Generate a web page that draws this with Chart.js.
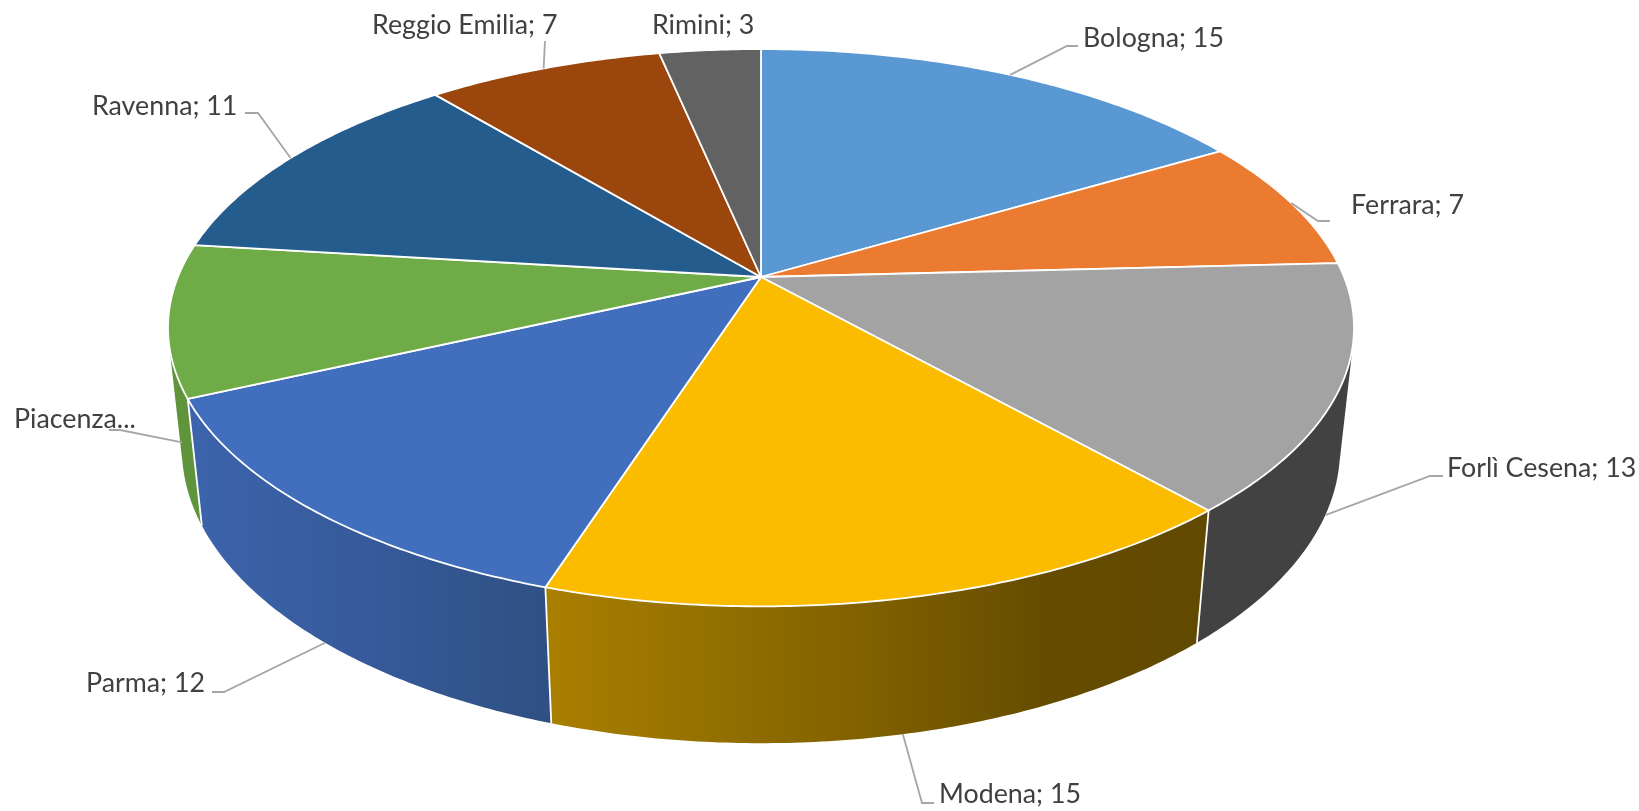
<!DOCTYPE html>
<html lang="it">
<head>
<meta charset="utf-8">
<title>Torta 3D</title>
<script src="https://cdn.jsdelivr.net/npm/chart.js@4"></script>
<style>
  html, body { margin: 0; padding: 0; background: #fff; }
  #wrap { width: 1639px; height: 811px; position: relative; }
</style>
</head>
<body>
<div id="wrap"><canvas id="torta"></canvas></div>
<script>
// Dati del grafico
const categories = ['Bologna', 'Ferrara', 'Forlì Cesena', 'Modena', 'Parma', 'Piacenza', 'Ravenna', 'Reggio Emilia', 'Rimini'];
const values = [15, 7, 13, 15, 12, 8, 11, 7, 3];
const labelTexts = ['Bologna; 15', 'Ferrara; 7', 'Forlì Cesena; 13', 'Modena; 15', 'Parma; 12', 'Piacenza...', 'Ravenna; 11', 'Reggio Emilia; 7', 'Rimini; 3'];

// Colori
const faceColors = ['#5A98D3', '#EA7B30', '#A3A3A3', '#FBBC00', '#416FBE', '#6FAB46', '#255C8E', '#9A460C', '#626262'];
const wallColors = [
    ['#3F6D96', '#3F6D96'], ['#A65723', '#A65723'], ['#424242', '#424242'],
    ['#AA7F00', '#947000', '#7F6000', '#654C00', '#614900'], ['#3C64AC', '#365A9A', '#2F5083'],
    ['#5F933C', '#5F933C'], ['#1A4166', '#1A4166'], ['#6F320A', '#6F320A'], ['#454545', '#454545']
];

// Posizione etichette: testo x, linea base, poi gomito e fine della linea guida
const labelLayout = [
    { x: 1083, y: 47, elbow: [1067, 46], end: [1078, 46] },
    { x: 1351, y: 214, elbow: [1318, 221], end: [1330, 221] },
    { x: 1447, y: 477, elbow: [1430, 476], end: [1443, 476] },
    { x: 939, y: 803, elbow: [922, 803], end: [934, 803] },
    { x: 86, y: 692, elbow: [224, 692], end: [212, 692] },
    { x: 14, y: 428, elbow: [120, 430], end: [109, 430] },
    { x: 92, y: 115, elbow: [258, 113], end: [245, 113] },
    { x: 372, y: 34, elbow: [545, 41], end: [545, 41] },
    { x: 652, y: 34, elbow: null, end: null }
];

// Prospettiva della torta (rispetto al raggio calcolato da Chart.js)
const stretchX = 2.105;
const stretchY = 0.9726;
const perspective = 0.182;
const depthW = 0.0233;
const depthY = 0.4433;

// Proietta un angolo della torta sul piano superiore (z = 0) o inferiore (z = 1)
function project(arc, angle, z) {
    const x = Math.cos(angle);
    const y = Math.sin(angle);
    const w = 1 - perspective * y + depthW * z;
    return {
        x: arc.x + arc.outerRadius * stretchX * x / w,
        y: arc.y + arc.outerRadius * (stretchY * y + depthY * z) / w
    };
}

function arcPoints(arc, z) {
    const steps = Math.max(2, Math.ceil((arc.endAngle - arc.startAngle) / 0.01));
    const points = [];
    for (let i = 0; i <= steps; i++) {
        points.push(project(arc, arc.startAngle + (arc.endAngle - arc.startAngle) * i / steps, z));
    }
    return points;
}

function tracePath(ctx, points, close) {
    ctx.beginPath();
    points.forEach((p, i) => i ? ctx.lineTo(p.x, p.y) : ctx.moveTo(p.x, p.y));
    if (close) ctx.closePath();
}

// Area con segno, serve a orientare tutti i quadrilateri nello stesso verso
function signedArea(points) {
    let area = 0;
    points.forEach((p, i) => {
        const q = points[(i + 1) % points.length];
        area += p.x * q.y - q.x * p.y;
    });
    return area;
}

const torta3d = {
    id: 'torta3d',
    beforeDatasetsDraw(chart) {
        const ctx = chart.ctx;
        const arcs = chart.getDatasetMeta(0).data;
        ctx.save();
        ctx.lineJoin = 'round';

        // Pareti laterali: un solo tracciato per spicchio, cosi non si vedono giunte
        arcs.forEach((arc, i) => {
            const top = arcPoints(arc, 0);
            const bottom = arcPoints(arc, 1);
            const xs = top.concat(bottom).map(p => p.x);
            const grad = ctx.createLinearGradient(Math.min(...xs), 0, Math.max(...xs), 0);
            wallColors[i].forEach((c, k) => grad.addColorStop(k / (wallColors[i].length - 1), c));
            ctx.beginPath();
            for (let k = 0; k < top.length - 1; k++) {
                const quad = [top[k], top[k + 1], bottom[k + 1], bottom[k]];
                if (signedArea(quad) < 0) quad.reverse();
                quad.forEach((p, n) => n ? ctx.lineTo(p.x, p.y) : ctx.moveTo(p.x, p.y));
                ctx.closePath();
            }
            ctx.fillStyle = grad;
            ctx.fill();
        });

        // Spigoli bianchi tra le pareti
        ctx.strokeStyle = '#FFFFFF';
        ctx.lineWidth = 1.8;
        arcs.forEach(arc => {
            tracePath(ctx, [project(arc, arc.startAngle, 0), project(arc, arc.startAngle, 1)], false);
            ctx.stroke();
        });

        // Faccia superiore
        arcs.forEach(arc => {
            tracePath(ctx, [{ x: arc.x, y: arc.y }].concat(arcPoints(arc, 0)), true);
            ctx.fillStyle = arc.options.backgroundColor;
            ctx.fill();
            ctx.stroke();
        });
        ctx.restore();
        return false;
    },
    afterDraw(chart) {
        const ctx = chart.ctx;
        const arcs = chart.getDatasetMeta(0).data;
        ctx.save();
        ctx.font = '26.8px Lato';
        ctx.textBaseline = 'alphabetic';
        arcs.forEach((arc, i) => {
            const pos = labelLayout[i];
            if (pos.elbow) {
                // La linea guida parte dal centro dello spicchio, sul bordo visibile
                const mid = (arc.startAngle + arc.endAngle) / 2;
                const anchor = project(arc, mid, Math.sin(mid) > 0 ? 1 : 0);
                ctx.beginPath();
                ctx.moveTo(anchor.x, anchor.y);
                ctx.lineTo(pos.elbow[0], pos.elbow[1]);
                ctx.lineTo(pos.end[0], pos.end[1]);
                ctx.strokeStyle = '#A6A6A6';
                ctx.lineWidth = 1.8;
                ctx.stroke();
            }
            ctx.fillStyle = '#404040';
            ctx.fillText(labelTexts[i], pos.x, pos.y);
        });
        ctx.restore();
    }
};

new Chart(document.getElementById('torta'), {
    type: 'pie',
    data: {
        labels: categories,
        datasets: [{
            data: values,
            backgroundColor: faceColors,
            borderWidth: 0,
            hoverOffset: 0
        }]
    },
    options: {
        responsive: true,
        maintainAspectRatio: false,
        animation: false,
        events: [],
        layout: { padding: { right: 117, bottom: 257 } },
        plugins: {
            legend: { display: false },
            tooltip: { enabled: false }
        }
    },
    plugins: [torta3d]
});
</script>
</body>
</html>
